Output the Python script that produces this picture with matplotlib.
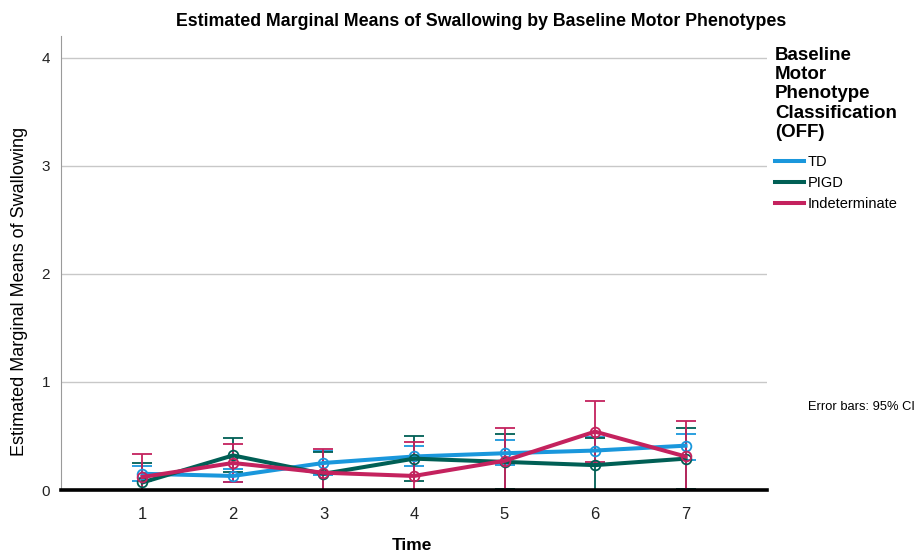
import matplotlib
matplotlib.use("Agg")
import matplotlib.pyplot as plt
from matplotlib.lines import Line2D
import numpy as np

plt.rcParams['font.family'] = ['Liberation Sans', 'DejaVu Sans']

time = [1, 2, 3, 4, 5, 6, 7]
groups = ["TD", "PIGD", "Indeterminate"]
colors = ["#1a97dc", "#005f55", "#c4225e"]

td_mean = [0.15, 0.13, 0.25, 0.31, 0.34, 0.365, 0.41]
td_lo = [0.08, 0.07, 0.14, 0.22, 0.23, 0.24, 0.28]
td_hi = [0.22, 0.19, 0.36, 0.41, 0.46, 0.49, 0.52]

pigd_mean = [0.07, 0.32, 0.15, 0.29, 0.26, 0.23, 0.29]
pigd_lo = [-0.11, 0.17, -0.05, 0.08, 0.01, -0.02, 0.01]
pigd_hi = [0.25, 0.48, 0.35, 0.50, 0.52, 0.48, 0.57]

ind_mean = [0.12, 0.25, 0.16, 0.13, 0.27, 0.54, 0.31]
ind_lo = [-0.09, 0.07, -0.06, -0.18, -0.03, 0.26, -0.02]
ind_hi = [0.33, 0.43, 0.38, 0.44, 0.57, 0.82, 0.64]

means = [td_mean, pigd_mean, ind_mean]
los = [td_lo, pigd_lo, ind_lo]
his = [td_hi, pigd_hi, ind_hi]

fig = plt.figure(figsize=(9.18, 5.55), dpi=100)
ax = fig.add_axes([61/918, 1-490/555, (767-61)/918, (490-36)/555])

for m, lo, hi, c in zip(means, los, his, colors):
    m = np.array(m); lo = np.array(lo); hi = np.array(hi)
    ax.errorbar(time, m, yerr=[m - lo, hi - m], fmt='none', ecolor=c,
                elinewidth=1.3, capsize=7, capthick=1.3, zorder=2)
    ax.plot(time, m, color=c, lw=2.9, zorder=3,
            marker='o', markersize=7, markerfacecolor='none',
            markeredgecolor=c, markeredgewidth=1.3)

ax.set_xlim(0.1, 7.9)
ax.set_ylim(0, 4.2)
ax.set_yticks([0, 1, 2, 3, 4])
ax.set_xticks(time)
ax.set_xticklabels([str(t) for t in time])
for y in [1, 2, 3, 4]:
    ax.axhline(y, color='#c8c8c8', lw=1.0, zorder=0.5)

for s in ['top', 'right']:
    ax.spines[s].set_visible(False)
ax.spines['left'].set_color('#9a9a9a')
ax.spines['left'].set_linewidth(0.8)
ax.spines['bottom'].set_color('black')
ax.spines['bottom'].set_linewidth(2.6)
ax.spines['bottom'].set_zorder(5)

ax.tick_params(axis='both', length=0, colors='#222222')
ax.tick_params(axis='x', labelsize=12, pad=12)
ax.tick_params(axis='y', labelsize=11, pad=8)

fig.text(412/918, 1-545/555, "Time", ha='center', va='center',
         fontsize=12.5, fontweight='bold')
fig.text(20/918, 1-291/555, "Estimated Marginal Means of Swallowing",
         ha='center', va='center', rotation=90, fontsize=13)

fig.text(481/918, 1-21/555, "Estimated Marginal Means of Swallowing by Baseline Motor Phenotypes",
         ha='center', va='center', fontsize=12.8, fontweight='bold')

fig.text(775/918, 1-47/555, "Baseline\nMotor\nPhenotype\nClassification\n(OFF)",
         ha='left', va='top', fontsize=13.5, fontweight='bold', linespacing=1.17)

handles = [Line2D([0], [0], color=c, lw=2.9) for c in colors]
leg = fig.legend(handles, groups, loc='upper left',
                 bbox_to_anchor=(765/918, 1-145/555), frameon=False,
                 fontsize=10.5, handlelength=2.0, handletextpad=0.2,
                 labelspacing=0.47, borderpad=0.2)

fig.text(808/918, 1-407/555, "Error bars: 95% CI", ha='left', va='center', fontsize=9.3)

fig.savefig("out.png", dpi=100)
